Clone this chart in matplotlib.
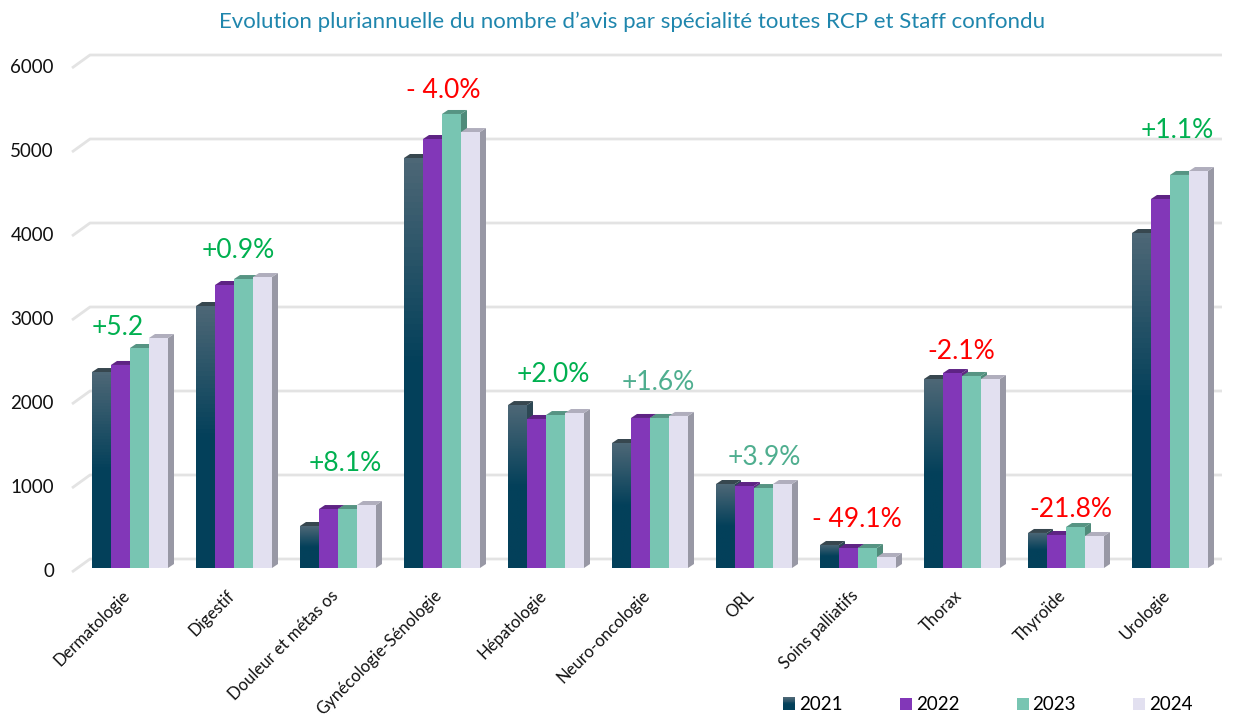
import numpy as np
import matplotlib
matplotlib.use("Agg")
import matplotlib.pyplot as plt
from matplotlib.patches import Polygon, Rectangle
from matplotlib.legend_handler import HandlerBase
from matplotlib.colors import LinearSegmentedColormap
from matplotlib.transforms import ScaledTranslation

specialites = ["Dermatologie", "Digestif", "Douleur et métas os", "Gynécologie-Sénologie",
               "Hépatologie", "Neuro-oncologie", "ORL", "Soins palliatifs",
               "Thorax", "Thyroïde", "Urologie"]
annees = ["2021", "2022", "2023", "2024"]
v2021 = [2333, 3119, 500, 4881, 1940, 1488, 1000, 274, 2250, 417, 3988]
v2022 = [2417, 3369, 702, 5107, 1774, 1786, 976, 238, 2321, 393, 4393]
v2023 = [2619, 3440, 702, 5405, 1821, 1786, 952, 238, 2286, 488, 4679]
v2024 = [2738, 3464, 750, 5190, 1845, 1810, 1000, 131, 2250, 381, 4726]
evol_labels = ["+5.2", "+0.9%", "+8.1%", "- 4.0%", "+2.0%", "+1.6%", "+3.9%",
               "- 49.1%", "-2.1%", "-21.8%", "+1.1%"]
evol_y = [2868, 3785, 1249, 5689, 2308, 2213, 1320, 582, 2582, 701, 5213]
evol_dx = [-0.115, 0.04, 0.067, 0.01, 0.07, 0.08, 0.096, -0.01, -0.01, 0.05, 0.07]
evol_col = ["#00b050", "#00b050", "#00b050", "#ff0000", "#00b050", "#4fae8f", "#4fae8f",
            "#ff0000", "#ff0000", "#ff0000", "#00b050"]

W, H = 1235, 718
PX_X = 104.0   # pixels per category
PX_Y = 0.084   # pixels per avis
face = ["#03405a", "#8237b8", "#78c5b2", "#e2e0f0"]
top_c = ["#37474f", "#5e2384", "#569483", "#b0aebd"]
side_c = ["#2d4854", "#5e2a80", "#4f8b7a", "#9898a5"]
grad = LinearSegmentedColormap.from_list("g21", ["#4d6776", "#03405a", "#03405a"])

plt.rcParams["font.family"] = ["Lato", "DejaVu Sans"]
fig = plt.figure(figsize=(W / 100, H / 100), dpi=100)
ax = fig.add_axes([72 / W, (H - 568) / H, (1222 - 72) / W, 504 / H])
ax.set_xlim((72 - 130) / PX_X, (1222 - 130) / PX_X)
ax.set_ylim(0, 6000)

# grid on the back wall, with the little diagonal on the left
x_l, x_b, x_r = ax.get_xlim()[0], (90 - 130) / PX_X, ax.get_xlim()[1]
for t in range(0, 7000, 1000):
    ax.plot([x_l, x_b, x_r], [t - 4 / PX_Y, t + 9 / PX_Y, t + 9 / PX_Y], color="#e3e3e3",
            lw=2, clip_on=False, zorder=1, solid_capstyle="butt")

series = [v2021, v2022, v2023, v2024]
w = 19 / PX_X
dx, dy = 6 / PX_X, 4 / PX_Y
z = 3
for i in range(len(specialites)):
    for k, vals in enumerate(series):
        x0 = i + (k - 2) * w
        v = vals[i]
        z += 1
        ax.add_patch(Polygon([(x0 + w, 0), (x0 + w + dx, dy), (x0 + w + dx, v + dy), (x0 + w, v)],
                             fc=side_c[k], ec="none", zorder=z))
        ax.add_patch(Polygon([(x0, v), (x0 + dx, v + dy), (x0 + w + dx, v + dy), (x0 + w, v)],
                             fc=top_c[k], ec="none", zorder=z))
        z += 1
        b = ax.bar(x0, v, w, align="edge", color=face[k], zorder=z, clip_on=False)
        if k == 0:
            im = ax.imshow(np.linspace(0, 1, 64).reshape(-1, 1), cmap=grad, aspect="auto",
                           extent=(x0, x0 + w, 0, v), origin="upper", zorder=z + 0.5)
            im.set_clip_path(b[0])
ax.set_xlim((72 - 130) / PX_X, (1222 - 130) / PX_X)
ax.set_ylim(0, 6000)

for i, lab in enumerate(evol_labels):
    ax.text(i + evol_dx[i], evol_y[i], lab, color=evol_col[i], fontsize=19,
            ha="center", va="center", zorder=100, clip_on=False)

for s in ax.spines.values():
    s.set_visible(False)
ax.patch.set_alpha(0)
ax.set_yticks(range(0, 7000, 1000))
ax.tick_params(axis="y", length=0, pad=13, labelsize=13.5, labelcolor="#111111")
ax.set_xticks(range(len(specialites)))
ax.set_xticklabels(specialites, rotation=45, ha="right", rotation_mode="anchor", fontsize=12)
ax.tick_params(axis="x", length=0, pad=14, labelcolor="#111111")
# nudge the tick labels to where the 3D chart puts them
for lab in ax.get_xticklabels():
    lab.set_transform(lab.get_transform() + ScaledTranslation(-8 / 100, 0, fig.dpi_scale_trans))
for lab in ax.get_yticklabels():
    lab.set_transform(lab.get_transform() + ScaledTranslation(0, -2 / 100, fig.dpi_scale_trans))

fig.text(632 / W, 1 - 22 / H, "Evolution pluriannuelle du nombre d’avis par spécialité toutes RCP et Staff confondu",
         color="#1f86ad", fontsize=16, ha="center", va="center")


class GradHandler(HandlerBase):
    def create_artists(self, legend, orig, xd, yd, width, height, fontsize, trans):
        n = 16
        out = []
        for j in range(n):
            c = grad(1 - j / (n - 1))
            out.append(Rectangle((xd * -1, -yd + height * j / n), width, height / n + 0.2,
                                 fc=c, ec="none", transform=trans))
        return out


handles = [Rectangle((0, 0), 1, 1, fc=c, ec="none") for c in face]
leg = fig.legend(handles, annees, ncols=4, frameon=False, loc="center",
                 bbox_to_anchor=(988 / W, 1 - 705 / H), fontsize=13.5,
                 handlelength=0.65, handleheight=0.65, handletextpad=0.2, columnspacing=3.05,
                 handler_map={handles[0]: GradHandler()})

fig.savefig("out.png", dpi=100)
